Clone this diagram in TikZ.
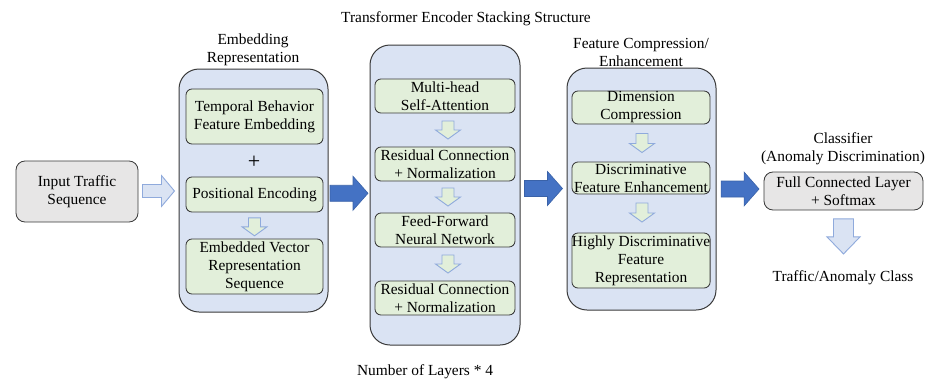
\documentclass[tikz,border=0pt]{standalone}
\usepackage{fontspec}
\setmainfont{Liberation Serif}
\usetikzlibrary{calc}

\definecolor{outerblue}{HTML}{DAE3F3}
\definecolor{innergreen}{HTML}{E2EFDA}
\definecolor{boxgray}{HTML}{E7E6E6}
\definecolor{edgegray}{HTML}{3A3A3A}
\definecolor{bigblue}{HTML}{4472C4}
\definecolor{bigblueedge}{HTML}{3A62A8}
\definecolor{lightedge}{HTML}{8FAADC}

\tikzset{
  txt/.style={font=\fontsize{15.4}{18}\selectfont, align=center, inner sep=0pt},
  outerbox/.style={draw=edgegray, line width=1pt, fill=outerblue, rounded corners=20pt},
  innerbox/.style={txt, draw=edgegray, line width=0.85pt, fill=innergreen, rounded corners=6pt},
  graybox/.style={txt, draw=edgegray, line width=0.85pt, fill=boxgray, rounded corners=9pt},
  bigarrow/.style={fill=bigblue, draw=bigblueedge, line width=0.6pt},
  hollowarrow/.style={fill=outerblue, draw=lightedge, line width=0.9pt},
  smallarrow/.style={fill=innergreen, draw=lightedge, line width=0.9pt},
  % block arrow pointing right, centred on its position: length, head width, shaft width, head length
  pics/rarr/.style n args={4}{code={
    \path[pic actions] (-#1/2,-#3/2) -- (#1/2-#4,-#3/2) -- (#1/2-#4,-#2/2) -- (#1/2,0)
      -- (#1/2-#4,#2/2) -- (#1/2-#4,#3/2) -- (-#1/2,#3/2) -- cycle;}},
  % block arrow pointing down, same parameters
  pics/darr/.style n args={4}{code={
    \path[pic actions] (-#3/2,-#1/2) -- (-#3/2,#1/2-#4) -- (-#2/2,#1/2-#4) -- (0,#1/2)
      -- (#2/2,#1/2-#4) -- (#3/2,#1/2-#4) -- (#3/2,-#1/2) -- cycle;}},
}

\begin{document}
\begin{tikzpicture}[x=1pt,y=-1pt]
\useasboundingbox (0,0) rectangle (933,381);

% stage containers
\node[outerbox, minimum width=149pt, minimum height=243pt] (emb) at (253.5,190.5) {};
\node[outerbox, minimum width=150pt, minimum height=300pt] (enc) at (445,195) {};
\node[outerbox, minimum width=149pt, minimum height=242pt] (feat) at (641.5,189) {};

% stage titles
\node[txt] (embT) at (253,50) {Embedding\\Representation};
\node[txt] (encT) at (466,19) {Transformer Encoder Stacking Structure};
\node[txt] (featT) at (641,52) {Feature Compression/\\Enhancement};
\node[txt] (clsT) at (843,149) {Classifier\\(Anomaly Discrimination)};
\node[txt] (layers) at (425,372) {Number of Layers * 4};

% input and classifier
\node[graybox, minimum width=122pt, minimum height=61pt] (input) at (77,191.5) {Input Traffic\\Sequence};
\node[graybox, minimum width=159pt, minimum height=38pt] (cls) at (843.5,191) {Full Connected Layer\\+ Softmax};
\node[txt] (out) at (843,278) {Traffic/Anomaly Class};

% embedding stage
\node[innerbox, minimum width=137pt, minimum height=55pt] (tbe) at (254.5,116.5) {Temporal Behavior\\Feature Embedding};
\node[txt, font=\fontsize{22}{22}\selectfont] (plus) at (254,162) {+};
\node[innerbox, minimum width=137pt, minimum height=35pt] (pe) at (254.5,194.5) {Positional Encoding};
\node[innerbox, minimum width=137pt, minimum height=55pt] (evr) at (254.5,266.5) {Embedded Vector\\Representation\\Sequence};

% encoder stage
\node[innerbox, minimum width=140pt, minimum height=34pt] (mha) at (445,96) {Multi-head\\Self-Attention};
\node[innerbox, minimum width=140pt, minimum height=34pt] (res1) at (445,164) {Residual Connection\\+ Normalization};
\node[innerbox, minimum width=140pt, minimum height=34pt] (ffn) at (445,230) {Feed-Forward\\Neural Network};
\node[innerbox, minimum width=140pt, minimum height=34pt] (res2) at (445,298) {Residual Connection\\+ Normalization};

% compression stage
\node[innerbox, minimum width=138pt, minimum height=33pt] (dim) at (641,107.5) {Dimension\\Compression};
\node[innerbox, minimum width=138pt, minimum height=32pt] (disc) at (641,178) {Discriminative\\Feature Enhancement};
\node[innerbox, minimum width=138pt, minimum height=55pt] (hdf) at (641,260.5) {Highly Discriminative\\Feature\\Representation};

% arrows between stages
\pic[hollowarrow] at ($(input.east)!0.5!(emb.west)$) {rarr={32}{31}{13}{13}};
\pic[bigarrow] at ($(emb.east)!0.5!(enc.west)+(0,0.5)$) {rarr={38}{34}{16}{15}};
\pic[bigarrow] at ($(enc.east)!0.5!(feat.west)+(0,-3.5)$) {rarr={38}{34}{16}{15}};
\pic[bigarrow] at ($(feat.east)!0.5!(cls.west)+(0,-1)$) {rarr={38}{34}{16}{15}};

% arrows inside stages
\pic[smallarrow] at ($(pe.south)!0.55!(evr.north)$) {darr={18}{25}{12}{9}};
\pic[smallarrow] at ($(mha.south)!0.5!(res1.north)+(3,0)$) {darr={18}{25}{12}{9}};
\pic[smallarrow] at ($(res1.south)!0.5!(ffn.north)+(3,0)$) {darr={18}{25}{12}{9}};
\pic[smallarrow] at ($(ffn.south)!0.5!(res2.north)+(3,0)$) {darr={18}{25}{12}{9}};
\pic[smallarrow] at ($(dim.south)!0.5!(disc.north)+(1,0)$) {darr={19}{25}{12}{9}};
\pic[smallarrow] at ($(disc.south)!0.5!(hdf.north)+(1,-1)$) {darr={19}{25}{12}{9}};

% classifier to output
\pic[hollowarrow] at ($(cls.south)+(0,26)$) {darr={35}{33}{20}{17}};
\end{tikzpicture}
\end{document}
